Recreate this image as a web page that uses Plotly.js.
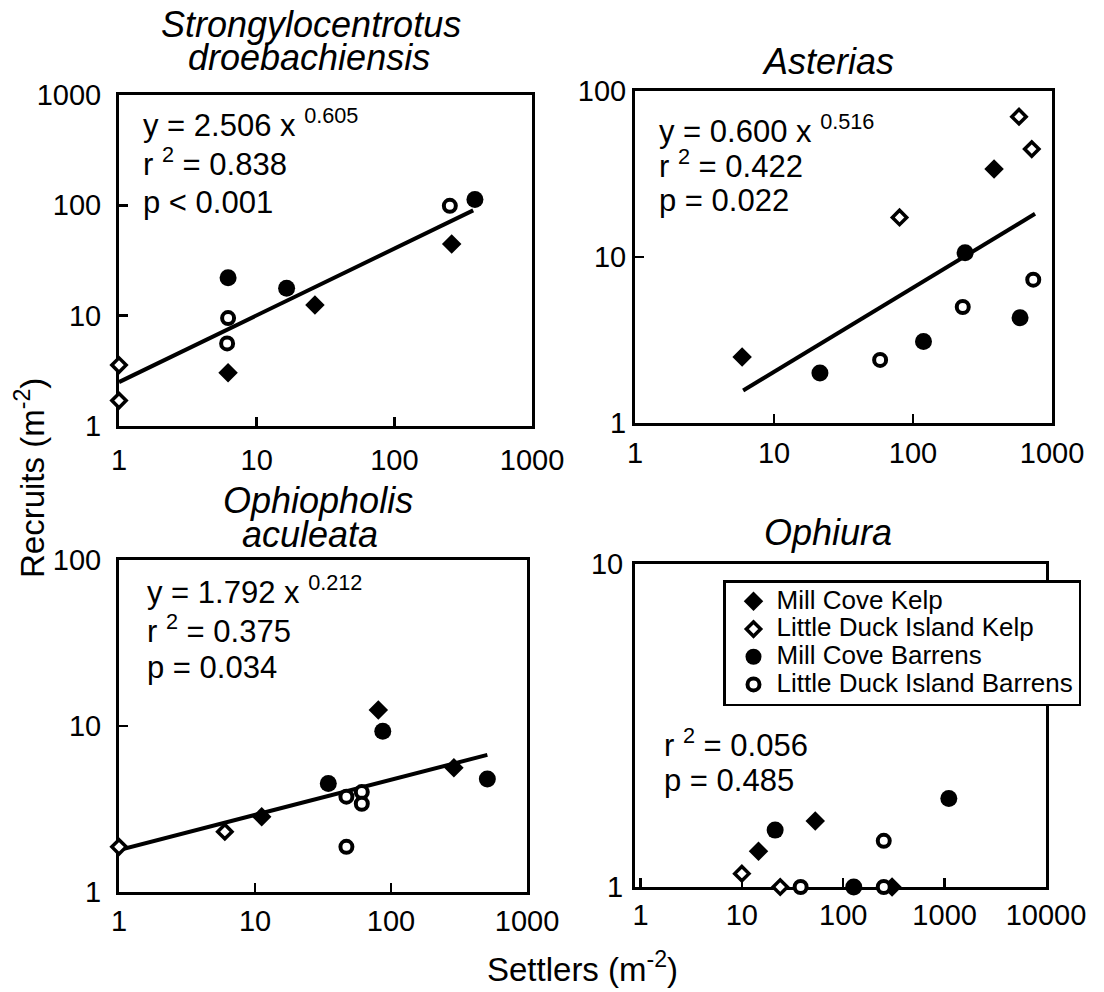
<!DOCTYPE html>
<html><head><meta charset="utf-8">
<script src="https://cdn.plot.ly/plotly-3.0.1.min.js"></script>
<style>html,body{margin:0;padding:0;background:#fff}</style>
</head><body><div id="chart" style="width:1104px;height:992px"></div>
<script>
// ---------- DATA ----------
const seriesNames = ['Mill Cove Kelp', 'Little Duck Island Kelp', 'Mill Cove Barrens', 'Little Duck Island Barrens'];
const tickVals3 = [1, 10, 100, 1000];           const tickText3 = ['1', '10', '100', '1000'];
const tickVals2 = [1, 10, 100];                 const tickText2 = ['1', '10', '100'];
const tickVals1 = [1, 10];                      const tickText1 = ['1', '10'];
const tickVals4 = [1, 10, 100, 1000, 10000];    const tickText4 = ['1', '10', '100', '1000', '10000'];

// Panel 1: Strongylocentrotus droebachiensis
const strongMCK_x = [6.2, 26.5, 261];   const strongMCK_y = [3.04, 12.5, 44.7];
const strongLDIK_x = [1, 1];            const strongLDIK_y = [3.57, 1.7];
const strongMCB_x = [6.2, 16.5, 385];   const strongMCB_y = [22.1, 17.7, 113];
const strongLDIB_x = [6.2, 6.1, 253];   const strongLDIB_y = [9.5, 5.6, 99];
const strongFit_x = [1, 374];           const strongFit_y = [2.5, 90];

// Panel 2: Asterias
const astMCK_x = [5.9, 383];            const astMCK_y = [2.5, 33.9];
const astLDIK_x = [80, 579, 715];       const astLDIK_y = [17.3, 70, 44.7];
const astMCB_x = [21.4, 119, 237, 589]; const astMCB_y = [2.0, 3.1, 10.6, 4.3];
const astLDIB_x = [58, 228, 733];       const astLDIB_y = [2.4, 5.0, 7.3];
const astFit_x = [6.0, 755];            const astFit_y = [1.57, 18.2];

// Panel 3: Ophiopholis aculeata
const ophMCK_x = [11.2, 80.7, 290];     const ophMCK_y = [2.84, 12.5, 5.6];
const ophLDIK_x = [1, 6.0];             const ophLDIK_y = [1.87, 2.31];
const ophMCB_x = [34.6, 87, 511];       const ophMCB_y = [4.5, 9.3, 4.8];
const ophLDIB_x = [47, 61, 61, 47];     const ophLDIB_y = [3.75, 4.0, 3.4, 1.87];
const ophFit_x = [1, 511];              const ophFit_y = [1.79, 6.7];

// Panel 4: Ophiura
const ophiuMCK_x = [14.6, 53, 303];     const ophiuMCK_y = [1.29, 1.60, 1.0];
const ophiuLDIK_x = [10, 23.9];         const ophiuLDIK_y = [1.10, 1.0];
const ophiuMCB_x = [21.3, 1100, 127];   const ophiuMCB_y = [1.50, 1.88, 1.0];
const ophiuLDIB_x = [251, 38, 251];     const ophiuLDIB_y = [1.39, 1.0, 1.0];

// ---------- STYLE ----------
const FONT = 'Liberation Sans, Arial, Helvetica, sans-serif';
const W = 1104, H = 992;
const px = v => v / W, py = v => 1 - v / H;

const markerStyles = [
  {symbol: 'diamond', size: 15, color: 'black', line: {color: 'black', width: 0}},
  {symbol: 'diamond', size: 11, color: 'white', line: {color: 'black', width: 3.5}},
  {symbol: 'circle', size: 17, color: 'black', line: {color: 'black', width: 0}},
  {symbol: 'circle', size: 12, color: 'white', line: {color: 'black', width: 4}}
];

const panels = [
  {ax: '', sets: [[strongMCK_x, strongMCK_y], [strongLDIK_x, strongLDIK_y], [strongMCB_x, strongMCB_y], [strongLDIB_x, strongLDIB_y]], fit: [strongFit_x, strongFit_y]},
  {ax: '2', sets: [[astMCK_x, astMCK_y], [astLDIK_x, astLDIK_y], [astMCB_x, astMCB_y], [astLDIB_x, astLDIB_y]], fit: [astFit_x, astFit_y]},
  {ax: '3', sets: [[ophMCK_x, ophMCK_y], [ophLDIK_x, ophLDIK_y], [ophMCB_x, ophMCB_y], [ophLDIB_x, ophLDIB_y]], fit: [ophFit_x, ophFit_y]},
  {ax: '4', sets: [[ophiuMCK_x, ophiuMCK_y], [ophiuLDIK_x, ophiuLDIK_y], [ophiuMCB_x, ophiuMCB_y], [ophiuLDIB_x, ophiuLDIB_y]], fit: null}
];

const traces = [];
panels.forEach((p, pi) => {
  if (p.fit) {
    traces.push({x: p.fit[0], y: p.fit[1], mode: 'lines', xaxis: 'x' + p.ax, yaxis: 'y' + p.ax,
      line: {color: 'black', width: 4}, showlegend: false, hoverinfo: 'skip', cliponaxis: false});
  }
  p.sets.forEach((s, si) => {
    traces.push({x: s[0], y: s[1], mode: 'markers', xaxis: 'x' + p.ax, yaxis: 'y' + p.ax,
      name: '<span style="font-size:26px">' + seriesNames[si] + '</span>',
      legendgroup: 'g' + si, showlegend: pi === 0, legendrank: si + 1,
      marker: markerStyles[si], cliponaxis: false});
  });
});

function axisBase(tv, tt, extra) {
  return Object.assign({
    type: 'log', showgrid: false, zeroline: false, showline: true, linecolor: 'black', linewidth: 3,
    mirror: true, ticks: 'inside', ticklen: 9, tickwidth: 2.5, tickcolor: 'black',
    tickmode: 'array', tickvals: tv, ticktext: tt,
    tickfont: {family: FONT, size: 29, color: 'black'}, layer: 'below traces', fixedrange: true
  }, extra);
}

const layout = {
  width: W, height: H, margin: {l: 0, r: 0, t: 0, b: 0},
  paper_bgcolor: 'white', plot_bgcolor: 'white', font: {family: FONT, color: 'black'},
  showlegend: true,
  legend: {x: px(723), y: py(580), xanchor: 'left', yanchor: 'top', bgcolor: 'white',
    bordercolor: 'black', borderwidth: 2.5, font: {family: FONT, size: 19, color: 'black'},
    itemsizing: 'trace', traceorder: 'normal', tracegroupgap: 0, itemwidth: 36, indentation: 5},
  xaxis: axisBase(tickVals3, tickText3, {domain: [px(119), px(532)], range: [0, 3], anchor: 'y', ticklabelstandoff: 6}),
  yaxis: axisBase(tickVals3, tickText3, {domain: [py(426), py(95)], range: [0, 3], anchor: 'x', ticklabelstandoff: 9}),
  xaxis2: axisBase(tickVals3, tickText3, {domain: [px(635), px(1052)], range: [0, 3], anchor: 'y2', ticklabelstandoff: 2}),
  yaxis2: axisBase(tickVals2, tickText2, {domain: [py(423), py(91)], range: [0, 2], anchor: 'x2', ticklabelstandoff: 0}),
  xaxis3: axisBase(tickVals3, tickText3, {domain: [px(119), px(527)], range: [0, 3], anchor: 'y3', ticklabelstandoff: 1}),
  yaxis3: axisBase(tickVals2, tickText2, {domain: [py(892), py(560)], range: [0, 2], anchor: 'x3', ticklabelstandoff: 9}),
  xaxis4: axisBase(tickVals4, tickText4, {domain: [px(635), px(1046)], range: [-0.054, 4], anchor: 'y4', ticklabelstandoff: 0}),
  yaxis4: axisBase(tickVals1, tickText1, {domain: [py(887), py(564)], range: [0, 1], anchor: 'x4', ticklabelstandoff: 3}),
  annotations: []
};

function ann(text, x, y, opts) {
  layout.annotations.push(Object.assign({text: text, x: px(x), y: py(y), xref: 'paper', yref: 'paper',
    showarrow: false, xanchor: 'center', yanchor: 'middle',
    font: {family: FONT, size: 31, color: 'black'}}, opts || {}));
}
const titleFont = {family: FONT, size: 36, color: 'black'};
ann('<i>Strongylocentrotus</i>', 311, 25, {font: titleFont});
ann('<i>droebachiensis</i>', 309, 57, {font: titleFont});
ann('<i>Asterias</i>', 828, 61, {font: titleFont});
ann('<i>Ophiopholis</i>', 318, 500, {font: titleFont});
ann('<i>aculeata</i>', 310, 534, {font: titleFont});
ann('<i>Ophiura</i>', 828, 532, {font: titleFont});

const L = {xanchor: 'left'};
ann('y = 2.506 x <sup>0.605</sup>', 141, 123, L);
ann('r <sup>2</sup> = 0.838', 141, 162, L);
ann('p < 0.001', 141, 202, L);
ann('y = 0.600 x <sup>0.516</sup>', 657, 129, L);
ann('r <sup>2</sup> = 0.422', 657, 164, L);
ann('p = 0.022', 657, 200, L);
ann('y = 1.792 x <sup>0.212</sup>', 145, 590, L);
ann('r <sup>2</sup> = 0.375', 145, 629, L);
ann('p = 0.034', 145, 667, L);
ann('r <sup>2</sup> = 0.056', 662, 743, L);
ann('p = 0.485', 662, 780, L);

const axTitleFont = {family: FONT, size: 33, color: 'black'};
ann('Recruits (m<sup>-2</sup>)', 30, 478, {textangle: -90, font: axTitleFont});
ann('Settlers (m<sup>-2</sup>)', 582, 967, {font: axTitleFont});

Plotly.newPlot('chart', traces, layout, {displayModeBar: false, staticPlot: true});
</script></body></html>
